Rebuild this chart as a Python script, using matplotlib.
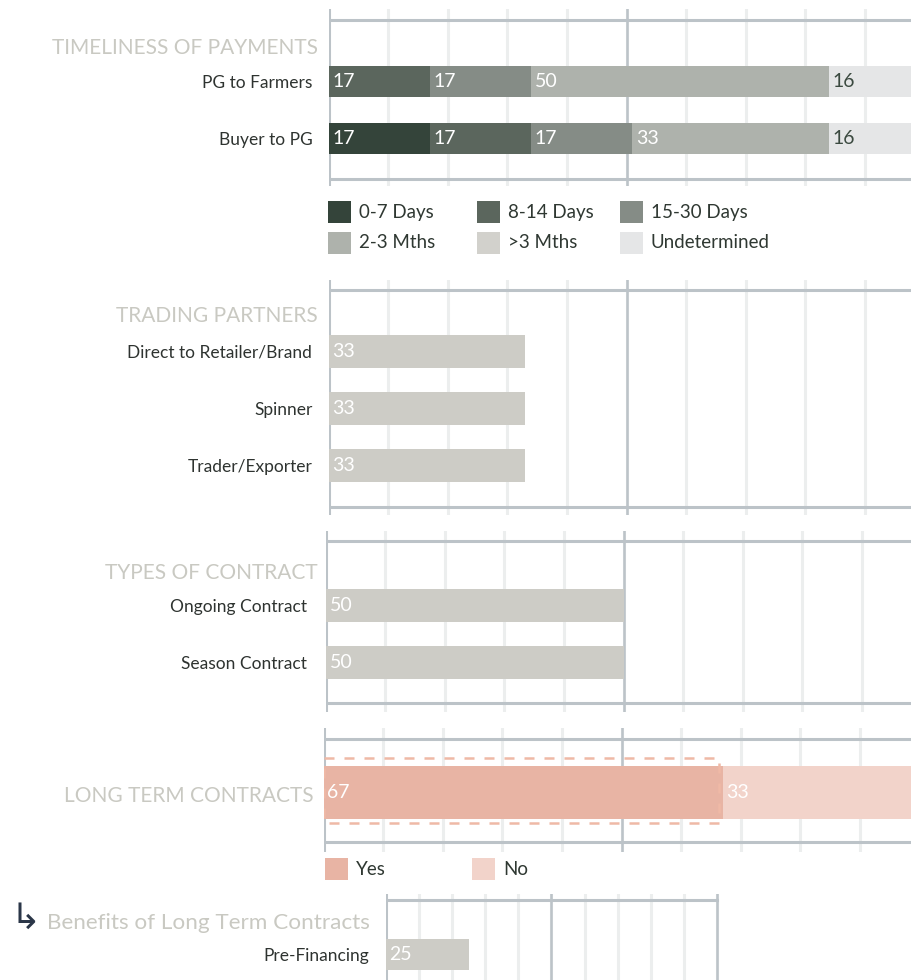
import numpy as np
import matplotlib
matplotlib.use("Agg")
import matplotlib.pyplot as plt
from matplotlib.patches import Rectangle

plt.rcParams['font.family'] = ['Lato', 'DejaVu Sans']

W, H, DPI = 912, 980, 100

# ---- data ----
pay_cats = ['PG to Farmers', 'Buyer to PG']
pay_keys = ['0-7 Days', '8-14 Days', '15-30 Days', '2-3 Mths', '>3 Mths', 'Undetermined']
days_0_7 = [0, 17]
days_8_14 = [17, 17]
days_15_30 = [17, 17]
mths_2_3 = [50, 33]
mths_over_3 = [0, 0]
undetermined = [16, 16]

partner_cats = ['Direct to Retailer/Brand', 'Spinner', 'Trader/Exporter']
partner_vals = [33, 33, 33]

contract_cats = ['Ongoing Contract', 'Season Contract']
contract_vals = [50, 50]

long_term_keys = ['Yes', 'No']
long_term_yes = [67]
long_term_no = [33]

benefit_cats = ['Pre-Financing']
benefit_vals = [25]

# ---- style ----
pay_colors = ['#34443a', '#5b665d', '#858c86', '#aeb2ac', '#d2d1cc', '#e5e6e7']
pay_text = ['white', 'white', 'white', 'white', '#3b4a40', '#3b4a40']
BAR_GREY = '#cdccc6'
YES_C, NO_C = '#e8b4a4', '#f2d3ca'
TITLE_C = '#c9c9c2'
FRAME_C = '#bcc3c8'
GRID_C = '#eceeee'
LABEL_C = '#2e3330'

fig = plt.figure(figsize=(W / DPI, H / DPI), dpi=DPI)


def make_panel(x0, x1, unit, top, bottom, first, step, n, frames, end_line=False):
    ax = fig.add_axes([x0 / W, 1 - bottom / H, (x1 - x0) / W, (bottom - top) / H])
    for s in ax.spines.values():
        s.set_visible(False)
    ax.set_axisbelow(True)
    ax.set_xticks(np.arange(10, 101, 10))
    ax.set_xlim(0, (x1 - x0) / unit)
    ax.set_ylim((bottom - first) / step, (top - first) / step)
    ax.grid(axis='x', color=GRID_C, lw=2.2)
    ax.tick_params(length=0, labelbottom=False, labelsize=12.5, labelcolor=LABEL_C)
    ax.axvline(0, color=FRAME_C, lw=2.2, zorder=0.8)
    ax.axvline(50, color=FRAME_C, lw=1.8, zorder=0.8)
    if end_line:
        ax.axvline(100, color=FRAME_C, lw=1.8, zorder=0.8)
    for f in frames:
        ax.axhline((f - first) / step, color=FRAME_C, lw=2.2, zorder=0.8,
                   xmax=(100 / ax.get_xlim()[1]) if end_line else 1)
    ax.set_yticks(range(n))
    return ax


def bar_label(ax, x, y, val, color):
    ax.annotate(str(val), (x, y), xytext=(2.5, 0), textcoords='offset points',
                va='center', ha='left', fontsize=14, color=color, zorder=5)


def fig_title(x, y, s, size=15):
    fig.text(x / W, 1 - y / H, s, ha='right', va='baseline', fontsize=size,
             color=TITLE_C)


def legend_item(x, y, color, label):
    fig.add_artist(Rectangle((x / W, 1 - (y + 22) / H), 23 / W, 22 / H,
                             transform=fig.transFigure, color=color, lw=0))
    fig.text((x + 31) / W, 1 - (y + 11) / H, label, ha='left', va='center',
             fontsize=13.5, color='#2f3832')


# ---- panel 1: timeliness of payments ----
ax1 = make_panel(329, W, 5.95, 9, 186, 81, 57.5, 2, [20, 179])
ax1.set_yticklabels(pay_cats)
ax1.tick_params(axis='y', pad=12)
left = np.zeros(2)
for vals, col, tc in zip([days_0_7, days_8_14, days_15_30, mths_2_3, mths_over_3, undetermined],
                         pay_colors, pay_text):
    ax1.barh(range(2), vals, left=left, height=31 / 57.5, color=col, lw=0, zorder=2)
    for i, v in enumerate(vals):
        if v > 0:
            bar_label(ax1, left[i], i, v, tc)
    left += np.array(vals)
fig_title(318, 54, 'TIMELINESS OF PAYMENTS')

leg_cols = [328, 477, 620]
leg_rows = [201, 232]
for k, (lab, col) in enumerate(zip(pay_keys, pay_colors)):
    legend_item(leg_cols[k % 3], leg_rows[k // 3], col, lab)

# ---- panel 2: trading partners ----
ax2 = make_panel(329, W, 5.95, 280, 515, 351.5, 57, 3, [290, 507])
ax2.set_yticklabels(partner_cats)
ax2.tick_params(axis='y', pad=12)
ax2.barh(range(3), partner_vals, height=33 / 57, color=BAR_GREY, lw=0, zorder=2)
for i, v in enumerate(partner_vals):
    bar_label(ax2, 0, i, v, 'white')
fig_title(318, 322, 'TRADING PARTNERS')

# ---- panel 3: types of contract ----
ax3 = make_panel(326, W, 5.95, 531, 712, 605.5, 57, 2, [541, 703])
ax3.set_yticklabels(contract_cats)
ax3.tick_params(axis='y', pad=13.5)
ax3.barh(range(2), contract_vals, height=33 / 57, color=BAR_GREY, lw=0, zorder=2)
for i, v in enumerate(contract_vals):
    bar_label(ax3, 0, i, v, 'white')
fig_title(318, 579, 'TYPES OF CONTRACT')

# ---- panel 4: long term contracts ----
ax4 = make_panel(324, W, 5.95, 728, 852, 792, 53, 1, [739, 842])
ax4.set_yticks([])
ax4.barh([0], long_term_yes, height=1, color=YES_C, lw=0, zorder=2)
ax4.barh([0], long_term_no, left=long_term_yes, height=1, color=NO_C, lw=0, zorder=2)
bar_label(ax4, 0, 0, long_term_yes[0], 'white')
bar_label(ax4, long_term_yes[0], 0, long_term_no[0], 'white')
ax4.add_patch(Rectangle((0, -34.5 / 53), long_term_yes[0] - 0.6, 65.5 / 53, fill=False,
                        edgecolor='#efb9a6', lw=1.8, ls=(0, (4, 4)), zorder=3))
fig_title(314, 802, 'LONG TERM CONTRACTS')
for k, (lab, col) in enumerate(zip(long_term_keys, [YES_C, NO_C])):
    legend_item(325 + 147 * k, 858, col, lab)

# ---- panel 5: benefits of long term contracts ----
ax5 = make_panel(386, 722, 3.31, 894, 995, 954.5, 57, 1, [900], end_line=True)
ax5.set_yticklabels(benefit_cats)
ax5.tick_params(axis='y', pad=12)
ax5.barh(range(1), benefit_vals, height=31 / 57, color=BAR_GREY, lw=0, zorder=2)
bar_label(ax5, 0, 0, benefit_vals[0], 'white')
fig_title(370, 929, 'Benefits of Long Term Contracts', size=16.2)
fig.text(10 / W, 1 - 919 / H, '\u21b3', ha='left', va='center', fontsize=26,
         color='#2b3648', family=['Noto Sans CJK SC', 'DejaVu Sans'])

fig.savefig('out.png', dpi=DPI)
